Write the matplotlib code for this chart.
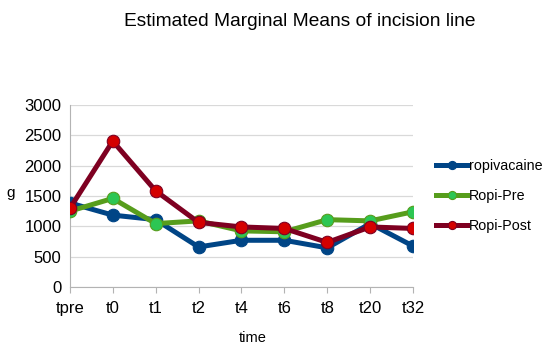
import matplotlib
matplotlib.use("Agg")
import matplotlib.pyplot as plt

plt.rcParams["font.family"] = ["Liberation Sans", "DejaVu Sans"]

# ---- data ----
TIMES = ["tpre", "t0", "t1", "t2", "t4", "t6", "t8", "t20", "t32"]
ROPIVACAINE = [1385, 1185, 1110, 660, 770, 770, 645, 1045, 675]
ROPI_PRE    = [1250, 1460, 1045, 1090, 925, 910, 1110, 1090, 1240]
ROPI_POST   = [1295, 2405, 1585, 1065, 990, 965, 735, 990, 965]

SERIES = [
    ("ropivacaine", ROPIVACAINE, "#004586", "#004586"),
    ("Ropi-Pre",    ROPI_PRE,    "#579d1c", "#2dc653"),
    ("Ropi-Post",   ROPI_POST,   "#7e0021", "#d40000"),
]

fig = plt.figure(figsize=(5.5, 3.5), dpi=100)
ax = fig.add_axes([0.127, 0.18, 0.624, 0.52])

x = list(range(len(TIMES)))
for name, vals, lc, mc in SERIES:
    ax.plot(x, vals, color=lc, lw=3.6, marker="o", ms=9,
            mfc=mc, mec=lc, mew=0.8, label=name, zorder=3)

ax.set_xlim(0, len(TIMES) - 1)
ax.set_ylim(0, 3000)
ax.set_yticks(range(0, 3001, 500))
ax.set_xticks(x)
ax.set_xticklabels(TIMES)
ax.tick_params(axis="both", labelsize=12, colors="#b3b3b3", labelcolor="black")
ax.tick_params(axis="y", length=0, pad=6)
ax.tick_params(axis="x", length=4, pad=6)
ax.grid(axis="y", color="#d9d9d9", lw=0.9)
ax.set_axisbelow(True)
for s in ("top", "right"):
    ax.spines[s].set_visible(False)
for s in ("left", "bottom"):
    ax.spines[s].set_color("#b3b3b3")

fig.text(0.545, 0.94, "Estimated Marginal Means of incision line",
         ha="center", va="center", fontsize=13.8)
fig.text(0.012, 0.45, "g", ha="left", va="center", fontsize=11)
fig.text(0.46, 0.035, "time", ha="center", va="center", fontsize=10.5)

ax.legend(loc="center left", bbox_to_anchor=(1.05, 0.5), frameon=False,
          fontsize=10.3, handlelength=2.2, handletextpad=0.1, labelspacing=1.15,
          markerscale=0.65, borderaxespad=0)

fig.savefig("out.png", dpi=100)
